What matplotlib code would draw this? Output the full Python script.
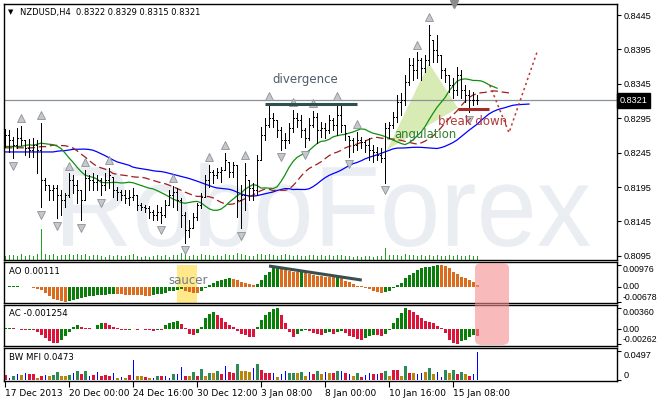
import numpy as np
import matplotlib.pyplot as plt
from matplotlib.patches import Polygon, Rectangle, FancyBboxPatch, PathPatch
from matplotlib.textpath import TextPath
from matplotlib.font_manager import FontProperties
from matplotlib.transforms import Affine2D, blended_transform_factory

plt.rcParams['font.family'] = ['DejaVu Sans']

# NZDUSD H4 bars
high = [
    .8279, .8278, .8268, .8281, .8284, .8263, .8265, .8266, .8263, .8288,
    .8208, .8198, .8198, .8198, .8191, .8186, .8215, .8213, .8205, .8191,
    .8220, .8213, .8215, .8213, .8208, .8215, .8223, .8210, .8195, .8191,
    .8191, .8191, .8194, .8183, .8172, .8169, .8167, .8162, .8169, .8166,
    .8176, .8191, .8197, .8194, .8179, .8159, .8147, .8157, .8172, .8186,
    .8213, .8227, .8220, .8223, .8224, .8245, .8231, .8231, .8227, .8198,
    .8230, .8205, .8201, .8242, .8282, .8295, .8317, .8303, .8292, .8282,
    .8274, .8288, .8307, .8303, .8300, .8281, .8295, .8306, .8303, .8290,
    .8288, .8300, .8295, .8316, .8314, .8285, .8269, .8266, .8275, .8268,
    .8263, .8266, .8256, .8253, .8252, .8288, .8290, .8304, .8329, .8332,
    .8358, .8383, .8383, .8391, .8383, .8387, .8431, .8409, .8416, .8387,
    .8368, .8358, .8354, .8370, .8365, .8343, .8336, .8333, .8329]
low = [
    .8253, .8246, .8237, .8252, .8256, .8242, .8239, .8239, .8215, .8166,
    .8191, .8176, .8176, .8150, .8154, .8166, .8181, .8186, .8172, .8147,
    .8176, .8191, .8191, .8191, .8183, .8191, .8194, .8181, .8176, .8176,
    .8172, .8169, .8176, .8162, .8162, .8159, .8150, .8147, .8147, .8143,
    .8151, .8169, .8166, .8162, .8137, .8114, .8122, .8135, .8147, .8165,
    .8181, .8195, .8201, .8208, .8202, .8220, .8210, .8210, .8151, .8135,
    .8162, .8176, .8176, .8183, .8234, .8263, .8282, .8282, .8268, .8249,
    .8252, .8259, .8275, .8282, .8268, .8253, .8263, .8282, .8259, .8268,
    .8266, .8274, .8278, .8271, .8275, .8263, .8239, .8246, .8249, .8252,
    .8246, .8234, .8231, .8234, .8231, .8201, .8266, .8281, .8290, .8300,
    .8314, .8343, .8351, .8354, .8351, .8362, .8372, .8377, .8377, .8354,
    .8348, .8333, .8325, .8329, .8325, .8319, .8304, .8314, .8315]
close = [
    .8271, .8263, .8256, .8266, .8263, .8252, .8249, .8256, .8249, .8205,
    .8198, .8191, .8194, .8183, .8176, .8183, .8205, .8198, .8191, .8176,
    .8208, .8205, .8202, .8205, .8198, .8205, .8213, .8191, .8188, .8183,
    .8179, .8181, .8183, .8169, .8166, .8165, .8159, .8154, .8159, .8154,
    .8169, .8183, .8188, .8176, .8154, .8133, .8135, .8151, .8169, .8181,
    .8205, .8217, .8213, .8217, .8220, .8234, .8217, .8227, .8176, .8183,
    .8213, .8194, .8191, .8234, .8271, .8285, .8295, .8292, .8278, .8263,
    .8263, .8281, .8295, .8292, .8278, .8266, .8285, .8297, .8278, .8281,
    .8278, .8292, .8285, .8300, .8285, .8274, .8263, .8256, .8263, .8261,
    .8256, .8249, .8246, .8242, .8237, .8281, .8285, .8297, .8319, .8322,
    .8348, .8372, .8365, .8380, .8368, .8380, .8416, .8394, .8387, .8365,
    .8358, .8343, .8336, .8358, .8336, .8329, .8322, .8322, .8321]
first_open = 0.8266
last_price = 0.8321

tick_volume = [
    4, 5, 5, 4, 6, 4, 5, 4, 6, 31,
    6, 5, 6, 4, 5, 5, 6, 5, 6, 5,
    6, 4, 5, 5, 4, 3, 5, 4, 5, 4,
    4, 5, 6, 4, 3, 4, 3, 4, 5, 4,
    5, 3, 5, 5, 7, 6, 4, 5, 4, 6,
    5, 5, 4, 5, 4, 6, 5, 5, 7, 6,
    5, 4, 4, 6, 6, 5, 6, 5, 4, 5,
    6, 5, 4, 5, 4, 4, 5, 5, 4, 5,
    4, 5, 4, 5, 5, 4, 4, 3, 4, 3,
    4, 4, 3, 4, 4, 12, 5, 5, 5, 4,
    6, 5, 5, 4, 5, 4, 5, 4, 5, 4,
    4, 5, 4, 5, 4, 4, 5, 4, 4]

frac_up = [4, 9, 16, 20, 26, 42, 51, 55, 60, 66, 72, 77, 83, 88, 103, 106]
frac_dn = [2, 9, 13, 19, 24, 39, 45, 59, 69, 75, 86, 95, 116]

ao = [
    .0002, .0003, .0004, .0006, .0001, -.0001, -.0002, -.0003, -.0007, -.0015,
    -.0025, -.0042, -.0052, -.0060, -.0064, -.00678, -.0063, -.0057, -.0052, -.0049,
    -.0045, -.0042, -.0039, -.0037, -.0036, -.0034, -.0033, -.0031, -.0032, -.0033,
    -.0034, -.0035, -.0036, -.0037, -.0038, -.0039, -.0040, -.0036, -.0033, -.0030,
    -.0025, -.0020, -.0016, -.0012, -.0010, -.0016, -.0022, -.0025, -.0026, -.0018,
    -.0006, .0009, .0019, .0027, .0031, .0035, .0040, .0038, .0031, .0024,
    .0019, .0014, .0008, .0013, .0031, .0052, .0066, .0085, .0093, .0091,
    .0076, .0072, .0069, .0066, .0067, .0061, .0058, .0054, .0051, .0049,
    .0047, .0046, .0044, .0046, .0039, .0028, .0021, .0012, .0006, .0003,
    -.0006, -.0010, -.0016, -.0024, -.0027, -.0024, -.0018, -.0006, .0007, .0019,
    .0039, .0054, .0064, .0076, .0084, .0088, .0091, .0095, .00976, .0097,
    .0094, .0084, .0069, .0057, .0046, .0039, .0031, .0024, .00111]

ac = [
    .0001, .0002, .0001, .0000, -.0001, -.0002, -.0001, -.0002, -.0005, -.0010,
    -.0016, -.0020, -.0023, -.0024, -.0019, -.0012, -.0005, .0004, .0006, .0004,
    .0002, .0001, .00005, .0007, .0011, .0010, .0007, .0004, .0001, -.0001,
    -.0002, -.0001, -.00005, -.0001, .0000, -.0001, -.0002, -.0003, -.0001, -.0002,
    .0006, .0010, .0012, .0013, .0009, .0001, -.0008, -.0011, -.0007, .0004,
    .0018, .0025, .0028, .0024, .0018, .0012, .0007, .0004, -.0004, -.0008,
    -.0011, -.0013, -.0014, .0003, .0015, .0024, .0029, .0034, .0036, .0024,
    .0010, -.0005, -.0013, -.0009, -.0004, -.0002, -.0004, -.0006, -.0008, -.0010,
    -.0007, -.0005, -.0008, -.0005, -.0003, -.0007, -.0012, -.0014, -.0017, -.0019,
    -.0016, -.0012, -.0010, -.0011, -.0012, -.0008, -.0002, .0010, .0018, .0027,
    .00352, .0033, .0028, .0024, .0018, .0014, .0012, .0010, .0005, .0001,
    -.0006, -.0019, -.0024, -.00262, -.0021, -.0018, -.0013, -.0011, -.001254]

mfi = [
    .0079, .0034, .0068, .0096, .0079, .0123, .0096, .0096, .0034, .0068,
    .0079, .0063, .0079, .0135, .0063, .0063, .0079, .0123, .0152, .0106,
    .0152, .0068, .0079, .0135, .0068, .0079, .0068, .0123, .0039, .0051,
    .0034, .0079, .0338, .0068, .0063, .0051, .0042, .0034, .0068, .0068,
    .0068, .0034, .0096, .0096, .0220, .0068, .0068, .0135, .0068, .0181,
    .0068, .0123, .0113, .0152, .0096, .0237, .0135, .0123, .0270, .0152,
    .0152, .0135, .0203, .0265, .0164, .0123, .0118, .0113, .0051, .0096,
    .0152, .0113, .0123, .0123, .0135, .0068, .0135, .0106, .0152, .0096,
    .0135, .0113, .0113, .0152, .0152, .0113, .0096, .0068, .0113, .0051,
    .0079, .0113, .0096, .0096, .0113, .0152, .0068, .0169, .0169, .0068,
    .0237, .0113, .0113, .0096, .0113, .0135, .0208, .0096, .0135, .0051,
    .0169, .0113, .0169, .0096, .0135, .0096, .0068, .0096, .0473]
# g = green, f = fade, b = fake, s = squat
mfi_zone = ("sbgbfbssfs" "bfggffgbgs" "gbsbsssbfb" "fsbffsfbgs" "bbgbbsfgsg"
            "fgfgsbssgf" "ffbgsssbfb" "bggfgfbsgf" "bfsgbsbfgs" "bbsbsgfssf"
            "gsfbbfgfbb" "gfgsgfsbb")

date_ticks = [0, 16, 32, 48, 64, 80, 96, 112]
date_labels = ['17 Dec 2013', '20 Dec 00:00', '24 Dec 16:00', '30 Dec 12:00',
               '3 Jan 08:00', '8 Jan 00:00', '10 Jan 16:00', '15 Jan 08:00']
price_ticks = [0.8445, 0.8395, 0.8345, 0.8295, 0.8245, 0.8195, 0.8145, 0.8095]

# annotations (bar index, value)
div_x, div_price = [65, 88], [0.8316, 0.8316]
div_ao_x, div_ao = [66, 89.2], [0.0094, 0.0031]
brk_x, brk_price = [113.2, 121], [0.8309, 0.8309]
tri_x, tri_price = [95.5, 106, 113.2], [0.8249, 0.8375, 0.8310]
proj_x, proj_price = [121.2, 126, 133], [0.8343, 0.8274, 0.8391]

high, low, close = np.array(high), np.array(low), np.array(close)
n = len(close)
x = np.arange(n)
opens = np.clip(np.r_[first_open, close[:-1]], low, high)

W, H = 657, 400
fig = plt.figure(figsize=(W / 100, H / 100), dpi=100)


def box(x0, y0, x1, y1):
    return [x0 / W, 1 - y1 / H, (x1 - x0) / W, (y1 - y0) / H]


ax = fig.add_axes(box(4, 4, 617, 260))
ax_ao = fig.add_axes(box(4, 262, 617, 303), sharex=ax)
ax_ac = fig.add_axes(box(4, 305, 617, 346), sharex=ax)
ax_mfi = fig.add_axes(box(4, 348, 617, 381), sharex=ax)
ax.set_xlim(-0.25, 153)
ax.set_ylim(0.8089, 0.8461)
ax_ao.set_ylim(-0.00717, 0.0112)
ax_ac.set_ylim(-0.00288, 0.00407)
ax_mfi.set_ylim(-0.0017, 0.054)

num_font = FontProperties(family='Liberation Sans', size=6.6)
sub_font = FontProperties(family='Liberation Sans', size=6.3)
for a in (ax, ax_ao, ax_ac, ax_mfi):
    for s in a.spines.values():
        s.set_linewidth(1.0)
        s.set_color('black')
    a.yaxis.tick_right()
    a.tick_params(axis='y', direction='out', length=3, width=0.8, pad=2)
    a.tick_params(axis='x', bottom=False, labelbottom=False)
for a in (ax_ao, ax_ac):
    a.tick_params(axis='y', pad=0.8)

# watermark
tp = TextPath((0, 0), 'RoboForex', size=1, prop=FontProperties(family='Liberation Sans'))
bb = tp.get_extents()
wm = Affine2D().translate(-bb.x0, -bb.y0).scale(527 / bb.width / W, 84 / bb.height / H) \
    .translate(63 / W, 1 - 247 / H) + fig.transFigure
ax.add_patch(PathPatch(tp, transform=wm, facecolor='#eaeef3', edgecolor='none', zorder=0))

# angulation triangle
ax.add_patch(Polygon(list(zip(tri_x, tri_price)), closed=True, facecolor='#d8ebb4',
                     edgecolor='none', zorder=1))

ax.axhline(last_price, color='#8a939c', lw=0.9, zorder=1)

# volume ticks at the bottom of the price window
vtr = blended_transform_factory(ax.transData, ax.transAxes)
ax.vlines(x, 0, np.array(tick_volume) / 256, transform=vtr, color='#22a022', lw=0.72,
          antialiased=False, snap=True, zorder=1)

# alligator
med = (high + low) / 2


def smma(values, period, shift, seed):
    out, v = [], seed
    for p in range(n + shift):
        if p >= shift:
            v = (v * (period - 1) + values[p - shift]) / period
        out.append(v)
    return np.array(out)


jaw = smma(med, 21, 13, 0.8246)
teeth = smma(med, 13, 8, 0.8252)
lips = smma(med, 8, 5, 0.8254)
ax.plot(np.arange(len(jaw)), jaw, color='#0000ff', lw=0.9, zorder=2)
ax.plot(np.arange(len(teeth)), teeth, color='#a01e1e', lw=0.9, dashes=(6, 3), zorder=2)
ax.plot(np.arange(len(lips)), lips, color='#119011', lw=0.9, zorder=2)

# OHLC bars
ax.vlines(x, low, high, color='black', lw=0.72, antialiased=False, snap=True, zorder=3)
ax.hlines(opens, x - 0.3, x, color='black', lw=0.72, antialiased=False, snap=True, zorder=3)
ax.hlines(close, x, x + 0.3, color='black', lw=0.72, antialiased=False, snap=True, zorder=3)

# fractals
fu = np.array(frac_up)
fd = np.array(frac_dn)
ax.plot(fu, high[fu] + 0.0011, ls='none', marker='^', ms=5.5, mfc='#c4c8cc',
        mec='#8e9296', mew=0.6, zorder=4)
ax.plot(fd, low[fd] - 0.0011, ls='none', marker='v', ms=5.5, mfc='#c4c8cc',
        mec='#8e9296', mew=0.6, zorder=4)

# annotations
ax.plot(div_x, div_price, color='#2f4f4f', lw=2.2, zorder=5, solid_capstyle='butt')
ax.plot(brk_x, brk_price, color='#a52a2a', lw=2.2, zorder=5, solid_capstyle='butt')
ax.plot(proj_x, proj_price, color='#c0392b', lw=1.1, ls=(0, (1.5, 2)), zorder=5)
ax.text(75, 0.8352, 'divergence', color='#4d5d6d', fontsize=8.5, ha='center',
        va='center', zorder=6)
ax.text(105, 0.8271, 'angulation', color='#2f7f2f', fontsize=8.4, ha='center',
        va='center', zorder=6)
ax.text(116.8, 0.8290, 'break down', color='#b03a3a', fontsize=8.5, ha='center',
        va='center', zorder=6)

# chart shift marker
ax.plot([112.25], [1.0], transform=vtr, marker='v', ms=6, color='#8c8c8c',
        clip_on=False, zorder=6)

ax.set_yticks(price_ticks)
ax.set_yticklabels([f'{p:.4f}' for p in price_ticks])
ax.text(1.004, last_price, '0.8321', transform=blended_transform_factory(ax.transAxes, ax.transData),
        color='white', fontproperties=num_font, va='center', ha='left',
        bbox=dict(boxstyle='square,pad=0.3', fc='black', ec='black'), zorder=10,
        clip_on=False)

# AO
ao = np.array(ao)
ao_up = np.r_[True, np.diff(ao) > 0]
ax_ao.add_patch(Rectangle((43, 0), 5, 0.93, transform=blended_transform_factory(ax_ao.transData, ax_ao.transAxes),
                          facecolor='#ffe98a', edgecolor='none', zorder=0))
ax_ao.bar(x, ao, width=0.75, color=np.where(ao_up, '#0a7d0a', '#db6c1e'), lw=0,
          antialiased=False, zorder=2)
ax_ao.plot(div_ao_x, div_ao, color='#3c4f4f', lw=2.2, zorder=3, solid_capstyle='butt')
ax_ao.text(45.75, 0.0031, 'saucer', color='#6f7b86', fontsize=8.5, ha='center',
           va='center', zorder=4)
ax_ao.set_yticks([ao.max(), 0, ao.min()], [f'{ao.max():.5f}', '0.00', f'{ao.min():.5f}'])
for lbl, va in zip(ax_ao.get_yticklabels(), ['top', 'center', 'bottom']):
    lbl.set_va(va)

# AC
ac = np.array(ac)
ac_up = np.r_[True, np.diff(ac) > 0]
ax_ac.bar(x, ac, width=0.75, color=np.where(ac_up, '#088008', '#dc143c'), lw=0,
          antialiased=False, zorder=2)
ax_ac.set_yticks([ac.max(), 0, ac.min()], [f'{ac.max():.5f}', '0.00', f'{ac.min():.5f}'])
for lbl, va in zip(ax_ac.get_yticklabels(), ['top', 'center', 'bottom']):
    lbl.set_va(va)

# BW MFI
zone_col = {'g': '#2e8b57', 'f': '#b8860b', 'b': '#0000ff', 's': '#dc143c'}
mfi = np.array(mfi)
widths = [0.25 if z == 'b' else 0.75 for z in mfi_zone]
ax_mfi.bar(x, mfi, width=widths, color=[zone_col[z] for z in mfi_zone], lw=0,
           antialiased=False, zorder=2)
ax_mfi.set_yticks([0.0497, 0], ['0.0497', '0'])
for lbl, va in zip(ax_mfi.get_yticklabels(), ['top', 'bottom']):
    lbl.set_va(va)

for a in (ax, ax_mfi):
    for lbl in a.get_yticklabels():
        lbl.set_fontproperties(num_font)
for a in (ax_ao, ax_ac):
    for lbl in a.get_yticklabels():
        lbl.set_fontproperties(sub_font)

ax_mfi.set_xticks(date_ticks)
ax_mfi.set_xticklabels(date_labels)
ax_mfi.tick_params(axis='x', bottom=True, labelbottom=True, direction='out',
                   length=4, width=0.8, pad=1.5, labelsize=6.5)
for lbl in ax_mfi.get_xticklabels():
    lbl.set_ha('left')
    lbl.set_fontfamily(['Liberation Sans Narrow', 'DejaVu Sans'])

# window captions
fig.text(8 / W, 1 - 12 / H, '\u25bc', fontsize=5, va='center')
fig.text(20 / W, 1 - 12 / H, 'NZDUSD,H4  0.8322 0.8329 0.8315 0.8321', fontsize=6,
         va='center')
fig.text(9 / W, 1 - 272 / H, 'AO 0.00111', fontsize=6.2, va='center')
fig.text(9 / W, 1 - 314 / H, 'AC -0.001254', fontsize=6.2, va='center')
fig.text(9 / W, 1 - 358 / H, 'BW MFI 0.0473', fontsize=6.2, va='center')

# signal zone across AO / AC windows
fig.add_artist(FancyBboxPatch((475 / W, 1 - 345 / H), 34 / W, 82 / H,
                              boxstyle='round,pad=0,rounding_size=0.012',
                              transform=fig.transFigure, facecolor='#f48c8c',
                              edgecolor='none', alpha=0.6, zorder=5))

fig.savefig('out.png', dpi=100)
